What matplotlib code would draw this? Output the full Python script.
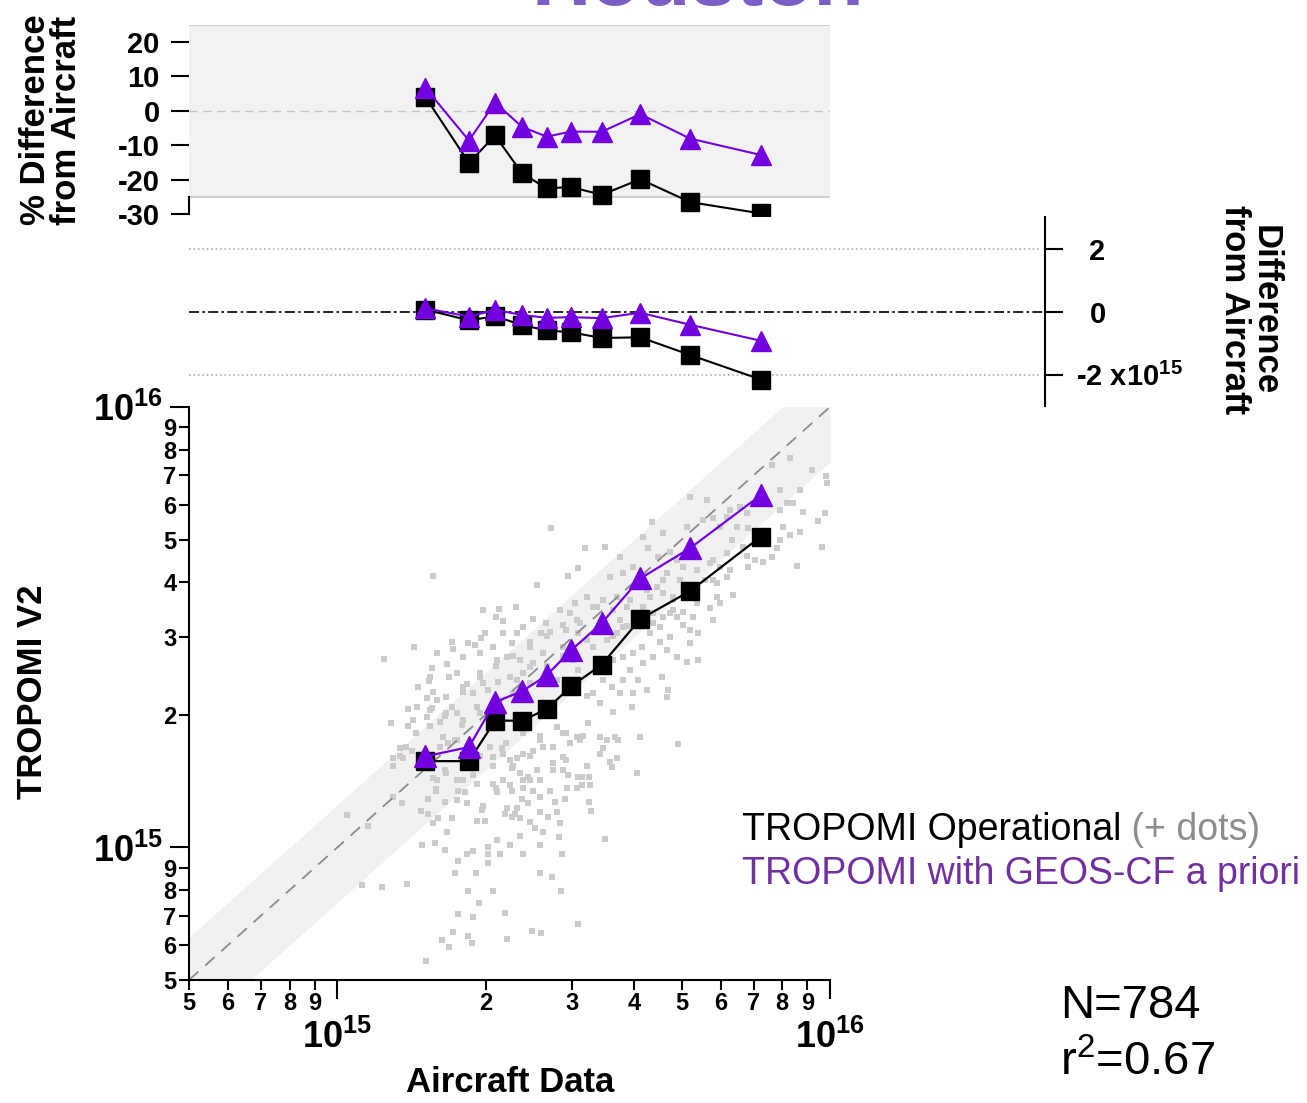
import numpy as np
import matplotlib.pyplot as plt
from matplotlib.ticker import LogLocator, FuncFormatter

plt.rcParams['font.family'] = ['Liberation Sans', 'DejaVu Sans']
plt.rcParams['font.weight'] = 'bold'
plt.rcParams['mathtext.fontset'] = 'custom'
plt.rcParams['mathtext.rm'] = 'Liberation Sans:normal'
plt.rcParams['mathtext.bf'] = 'Liberation Sans:bold'

# binned NO2 columns (molecules/cm2)
aircraft = np.array([1.51, 1.85, 2.09, 2.37, 2.66, 2.98, 3.44, 4.12, 5.20, 7.24]) * 1e15
tropomi_op = np.array([1.57, 1.57, 1.94, 1.94, 2.06, 2.32, 2.60, 3.30, 3.82, 5.08]) * 1e15
tropomi_geos = np.array([1.61, 1.69, 2.14, 2.26, 2.46, 2.80, 3.23, 4.08, 4.78, 6.31]) * 1e15

# individual pairs, log10(column / 1e15): (aircraft, tropomi operational)
dots_log = [
    (0.434, 0.725), (0.195, 0.616), (0.469, 0.616), (0.489, 0.634), (0.406, 0.595), (0.095, 0.427),
    (0.156, 0.455), (0.296, 0.539), (0.329, 0.541), (0.363, 0.545), (0.323, 0.523), (0.337, 0.514),
    (0.398, 0.518), (0.377, 0.500), (0.424, 0.509), (0.300, 0.486), (0.337, 0.486), (0.365, 0.486),
    (0.414, 0.486), (0.432, 0.489), (0.452, 0.539), (0.473, 0.532), (0.483, 0.555), (0.233, 0.466),
    (0.266, 0.464), (0.280, 0.459), (0.292, 0.475), (0.235, 0.450), (0.203, 0.441), (0.256, 0.432),
    (0.290, 0.441), (0.316, 0.455), (0.355, 0.464), (0.391, 0.466), (0.223, 0.416), (0.193, 0.407),
    (0.189, 0.386), (0.187, 0.377), (0.227, 0.386), (0.243, 0.395), (0.290, 0.395), (0.325, 0.425),
    (0.345, 0.432), (0.371, 0.425), (0.398, 0.418), (0.418, 0.441), (0.164, 0.364), (0.195, 0.352),
    (0.183, 0.339), (0.203, 0.334), (0.162, 0.318), (0.144, 0.314), (0.193, 0.316), (0.183, 0.295),
    (0.233, 0.318), (0.264, 0.370), (0.256, 0.352), (0.276, 0.350), (0.296, 0.373), (0.306, 0.357),
    (0.327, 0.375), (0.351, 0.386), (0.365, 0.380), (0.377, 0.395), (0.391, 0.409), (0.458, 0.455),
    (0.479, 0.425), (0.458, 0.425), (0.446, 0.380), (0.284, 0.318), (0.243, 0.305), (0.219, 0.298),
    (0.487, 0.516), (0.489, 0.486), (0.458, 0.505), (0.489, 0.402),
    (0.994, 0.827), (0.899, 0.811), (0.939, 0.811), (0.882, 0.868), (0.990, 0.759), (0.976, 0.741),
    (0.925, 0.782), (0.913, 0.782), (0.899, 0.766), (0.945, 0.761), (0.905, 0.727), (0.939, 0.716),
    (0.919, 0.709), (0.984, 0.682), (0.933, 0.639), (0.899, 0.698), (0.892, 0.680), (0.882, 0.659),
    (0.864, 0.648), (0.848, 0.652), (0.834, 0.636), (0.824, 0.682), (0.811, 0.727), (0.801, 0.698),
    (0.791, 0.668), (0.834, 0.725), (0.832, 0.759), (0.817, 0.773), (0.797, 0.766), (0.791, 0.750),
    (0.777, 0.727), (0.751, 0.789), (0.716, 0.795), (0.763, 0.748), (0.742, 0.743), (0.710, 0.727),
    (0.639, 0.739), (0.661, 0.714), (0.621, 0.705), (0.631, 0.680), (0.651, 0.659), (0.675, 0.670),
    (0.690, 0.652), (0.702, 0.636), (0.669, 0.623), (0.757, 0.645), (0.777, 0.636), (0.746, 0.607),
    (0.771, 0.600), (0.791, 0.614), (0.803, 0.573), (0.771, 0.568), (0.777, 0.555), (0.757, 0.543),
    (0.763, 0.516), (0.730, 0.555), (0.702, 0.534), (0.690, 0.523), (0.716, 0.493), (0.702, 0.505),
    (0.732, 0.486), (0.716, 0.464), (0.732, 0.425), (0.710, 0.420), (0.690, 0.432), (0.669, 0.448),
    (0.655, 0.466), (0.675, 0.477), (0.655, 0.500), (0.635, 0.486), (0.619, 0.455), (0.641, 0.432),
    (0.621, 0.418), (0.600, 0.441), (0.594, 0.402), (0.580, 0.380), (0.611, 0.380), (0.629, 0.357),
    (0.659, 0.386), (0.671, 0.357), (0.669, 0.341), (0.598, 0.318), (0.574, 0.350), (0.558, 0.364),
    (0.540, 0.380), (0.519, 0.350), (0.534, 0.327), (0.560, 0.307), (0.503, 0.680), (0.544, 0.682),
    (0.574, 0.659), (0.554, 0.614), (0.580, 0.623), (0.600, 0.636), (0.568, 0.568), (0.540, 0.561),
    (0.507, 0.568), (0.519, 0.545), (0.588, 0.545), (0.574, 0.516), (0.568, 0.486), (0.548, 0.470),
    (0.519, 0.455), (0.507, 0.470), (0.560, 0.425), (0.580, 0.432), (0.649, 0.591), (0.661, 0.577),
    (0.682, 0.561), (0.635, 0.568), (0.621, 0.545), (0.641, 0.532), (0.661, 0.523), (0.682, 0.539),
    (0.722, 0.523), (0.580, 0.500),
    (0.108, 0.282), (0.144, 0.275), (0.209, 0.284), (0.254, 0.277), (0.128, 0.225), (0.114, 0.202),
    (0.134, 0.202), (0.152, 0.220), (0.215, 0.250), (0.225, 0.236), (0.239, 0.243), (0.335, 0.225),
    (0.337, 0.213), (0.316, 0.205), (0.351, 0.198), (0.365, 0.202), (0.377, 0.213), (0.398, 0.220),
    (0.418, 0.227), (0.412, 0.254), (0.446, 0.273), (0.458, 0.259), (0.473, 0.236), (0.487, 0.250),
    (0.458, 0.205), (0.438, 0.191), (0.458, 0.175), (0.469, 0.164), (0.489, 0.159), (0.487, 0.136),
    (0.467, 0.136), (0.406, 0.175), (0.388, 0.159), (0.392, 0.152), (0.412, 0.152), (0.371, 0.168),
    (0.355, 0.180), (0.337, 0.152), (0.316, 0.145), (0.325, 0.125), (0.351, 0.141), (0.355, 0.129),
    (0.377, 0.136), (0.398, 0.129), (0.412, 0.114), (0.432, 0.129), (0.375, 0.111), (0.388, 0.100),
    (0.365, 0.089), (0.345, 0.089), (0.341, 0.077), (0.355, 0.068), (0.371, 0.066), (0.361, 0.077),
    (0.392, 0.057), (0.412, 0.080), (0.428, 0.068), (0.446, 0.080), (0.462, 0.111), (0.442, 0.102),
    (0.452, 0.055), (0.402, 0.045), (0.418, 0.034), (0.371, 0.027), (0.351, 0.005), (0.325, 0.016),
    (0.306, 0.000), (0.306, -0.014), (0.331, -0.014), (0.306, -0.036), (0.377, -0.014), (0.412, 0.005),
    (0.449, 0.023), (0.457, -0.014), (0.412, -0.059), (0.436, -0.068), (0.455, -0.098), (0.316, -0.100),
    (0.266, -0.100), (0.282, -0.057), (0.239, -0.057), (0.245, -0.030), (0.264, -0.014), (0.276, -0.007),
    (0.219, -0.005), (0.199, 0.009), (0.172, 0.005), (0.223, 0.034), (0.195, 0.055), (0.205, 0.066),
    (0.233, 0.066), (0.284, 0.061), (0.300, 0.061), (0.294, 0.084), (0.296, 0.095), (0.264, 0.100),
    (0.243, 0.107), (0.219, 0.102), (0.185, 0.111), (0.170, 0.082), (0.185, 0.075), (0.132, 0.100),
    (0.114, 0.114), (0.020, 0.073), (0.063, 0.048), (0.051, -0.086), (0.091, -0.091), (0.142, -0.084),
    (0.203, 0.152), (0.201, 0.132), (0.243, 0.152), (0.245, 0.129), (0.260, 0.125), (0.276, 0.164),
    (0.284, 0.145), (0.219, 0.175), (0.195, 0.157), (0.288, -0.127), (0.245, -0.152), (0.276, -0.157),
    (0.341, -0.150), (0.396, -0.189), (0.414, -0.195), (0.345, -0.209), (0.266, -0.200), (0.274, -0.216),
    (0.235, -0.193), (0.213, -0.211), (0.227, -0.225), (0.179, -0.257), (0.489, -0.175),
    (0.509, 0.282), (0.499, 0.254), (0.534, 0.250), (0.548, 0.243), (0.564, 0.250), (0.570, 0.243),
    (0.615, 0.250), (0.692, 0.234), (0.540, 0.225), (0.534, 0.213), (0.568, 0.202), (0.554, 0.193),
    (0.558, 0.182), (0.507, 0.184), (0.609, 0.168), (0.497, 0.159), (0.511, 0.159), (0.513, 0.141),
    (0.497, 0.141), (0.511, 0.104), (0.515, 0.082), (0.544, 0.018),
    (0.919, 0.884), (0.963, 0.857), (0.992, 0.843),
    (0.506, 0.343), (0.601, 0.350), (0.412, 0.243), (0.438, 0.229), (0.465, 0.259), (0.493, 0.243),
    (0.377, 0.259), (0.343, 0.236), (0.310, 0.229), (0.290, 0.207), (0.316, 0.184), (0.357, 0.184),
    (0.391, 0.207), (0.438, 0.175), (0.465, 0.198), (0.506, 0.184), (0.377, 0.152), (0.323, 0.136),
    (0.256, 0.152), (0.221, 0.168), (0.201, 0.129), (0.290, 0.305), (0.256, 0.289), (0.221, 0.305),
    (0.189, 0.275), (0.160, 0.259), (0.140, 0.229), (0.128, 0.207), (0.114, 0.184), (0.209, 0.229),
    (0.243, 0.243), (0.357, 0.350), (0.391, 0.373), (0.425, 0.411), (0.458, 0.434), (0.506, 0.470),
    (0.560, 0.479), (0.588, 0.502), (0.641, 0.509), (0.675, 0.532), (0.682, 0.568), (0.730, 0.584),
    (0.763, 0.607), (0.797, 0.630), (0.831, 0.661), (0.763, 0.652), (0.730, 0.630), (0.696, 0.607),
    (0.662, 0.607), (0.629, 0.584), (0.594, 0.561), (0.560, 0.539), (0.527, 0.545), (0.493, 0.509),
    (0.465, 0.493), (0.425, 0.479), (0.391, 0.455), (0.357, 0.434), (0.323, 0.411), (0.290, 0.386),
    (0.256, 0.364), (0.221, 0.341), (0.189, 0.311), (0.154, 0.289),
]

pct_ticks = [20, 10, 0, -10, -20, -30]
pct_labels = ['20', '10', '0', '-10', '-20', '-30']
diff_ticks = [2e15, 0, -2e15]
diff_labels = ['2', '0', r'-2 x10$^{\mathbf{15}}$']

pct_op = 100 * (tropomi_op / aircraft - 1)
pct_geos = 100 * (tropomi_geos / aircraft - 1)
diff_op = tropomi_op - aircraft
diff_geos = tropomi_geos - aircraft
dots = 1e15 * 10 ** np.array(dots_log)

purple = '#7300e0'
W, H = 1307, 1103


def px_rect(left, top, right, bottom):
    return [left / W, 1 - bottom / H, (right - left) / W, (bottom - top) / H]


fig = plt.figure(figsize=(W / 100, H / 100), dpi=100)
lo, hi = 5e14, 1e16

# ---- main log-log scatter
ax = fig.add_axes(px_rect(189, 407, 830, 980))
ax.set_xscale('log')
ax.set_yscale('log')
ax.set_xlim(lo, hi)
ax.set_ylim(lo, hi)
one = np.array([lo, hi])
ax.fill_between(one, 0.75 * one, 1.25 * one, color='#f1f1f1', lw=0, zorder=1)
ax.scatter(dots[:, 0], dots[:, 1], s=24, marker='s', color='#cbcbcb', linewidths=0, zorder=2)
ax.plot(one, one, color='#8a8a8a', lw=1.3, dashes=(7, 5), zorder=2.5)
ax.plot(aircraft, tropomi_op, color='k', lw=1.6, marker='s', ms=13.5, zorder=4)
ax.plot(aircraft, tropomi_geos, color=purple, lw=1.6, marker='^', ms=16, zorder=5)

for a in (ax.xaxis, ax.yaxis):
    a.set_major_locator(LogLocator(base=10))
    a.set_minor_locator(LogLocator(base=10, subs=np.arange(2, 10)))
    a.set_major_formatter(FuncFormatter(lambda v, p: r'$\mathbf{10^{%d}}$' % round(np.log10(v))))
    a.set_minor_formatter(FuncFormatter(
        lambda v, p: '%d' % round(v / 10 ** np.floor(np.log10(v) + 1e-9))))
ax.tick_params(which='minor', length=7, width=1.5, labelsize=17, pad=2)
ax.tick_params(which='major', length=14, width=1.5, labelsize=26)
ax.tick_params(axis='x', which='major', pad=15)
ax.tick_params(axis='y', which='major', pad=5)
for s in ('top', 'right'):
    ax.spines[s].set_visible(False)
for s in ('left', 'bottom'):
    ax.spines[s].set_linewidth(1.5)

# ---- top: percent difference
axt = fig.add_axes(px_rect(189, 24.8, 830, 214))
axt.set_xscale('log')
axt.set_xlim(lo, hi)
axt.set_ylim(-30, 25)
axt.axhspan(-25, 25, facecolor='#f2f2f2', edgecolor='none', zorder=1)
axt.axhline(25, color='#cfcfcf', lw=1.5, zorder=1.5)
axt.axhline(-25, color='#cfcfcf', lw=1.5, zorder=1.5)
axt.axhline(0, color='#c4c4c4', lw=1, dashes=(6, 4), zorder=1.5)
axt.plot(aircraft, pct_op, color='k', lw=1.5, marker='s', ms=13, zorder=4, clip_on=False)
axt.plot(aircraft, pct_geos, color=purple, lw=1.5, marker='^', ms=15, zorder=5, clip_on=False)
axt.tick_params(axis='x', which='both', bottom=False, labelbottom=False)
axt.set_yticks(pct_ticks)
axt.set_yticklabels(pct_labels)
axt.tick_params(axis='y', length=13, width=1.5, labelsize=21, pad=8)
for s in ('top', 'right', 'bottom'):
    axt.spines[s].set_visible(False)
axt.spines['left'].set_bounds(-30, -25)
axt.spines['left'].set_linewidth(1.5)

# ---- middle: absolute difference, right axis
axm = fig.add_axes(px_rect(189, 217, 1045, 406))
axm.set_xscale('log')
axm.set_xlim(lo, lo * 20 ** ((1045 - 189) / (830 - 189)))
axm.set_ylim(-3e15, 3e15)
axm.axhline(2e15, xmax=0.995, color='#b0b0b0', lw=1.2, ls=':')
axm.axhline(-2e15, xmax=0.995, color='#b0b0b0', lw=1.2, ls=':')
axm.axhline(0, color='k', lw=1.2, dashes=(6, 2, 1.5, 2))
axm.plot(aircraft, diff_op, color='k', lw=1.5, marker='s', ms=13, zorder=4)
axm.plot(aircraft, diff_geos, color=purple, lw=1.5, marker='^', ms=15, zorder=5)
axm.tick_params(axis='x', which='both', bottom=False, labelbottom=False)
axm.yaxis.tick_right()
axm.set_yticks(diff_ticks)
axm.set_yticklabels(diff_labels)
axm.tick_params(axis='y', length=13, width=1.5, labelsize=21, pad=19)
axm.yaxis.get_major_ticks()[2].label2.set_x(1 - 13 / 856)
for s in ('top', 'left', 'bottom'):
    axm.spines[s].set_visible(False)
axm.spines['right'].set_linewidth(1.5)

# ---- labels and annotations
fig.text(698 / W, 1 - 5 / H, 'Houston', fontsize=59, color='#7b5fc7', ha='center', va='baseline')
fig.text(51 / W, 1 - 120 / H, '% Difference\nfrom Aircraft', rotation=90, ha='center', va='center',
         fontsize=25, linespacing=0.9)
fig.text(1250 / W, 1 - 310 / H, 'Difference\nfrom Aircraft', rotation=270, ha='center', va='center',
         fontsize=25, linespacing=0.9)
fig.text(33 / W, 1 - 692 / H, 'TROPOMI V2', rotation=90, ha='center', va='center', fontsize=25)
fig.text(510 / W, 1 - 1082 / H, 'Aircraft Data', ha='center', va='center', fontsize=25)

t1 = fig.text(742 / W, 1 - 848 / H, 'TROPOMI Operational', fontsize=27, weight='normal',
              color='k', va='bottom')
ax.annotate(' (+ dots)', xy=(1, 0), xycoords=t1, va='bottom', fontsize=27, weight='normal',
            color='#8c8c8c', annotation_clip=False)
fig.text(742 / W, 1 - 892 / H, 'TROPOMI with GEOS-CF a priori', fontsize=27, weight='normal',
         color='#7030a0', va='bottom')
fig.text(1060 / W, 1 - 1018 / H, 'N=784', fontsize=34, weight='normal', va='baseline')
fig.text(1060 / W, 1 - 1075 / H, r'r$^{\mathrm{2}}$=0.67', fontsize=34, weight='normal', va='baseline')

fig.savefig('out.png', dpi=100)
